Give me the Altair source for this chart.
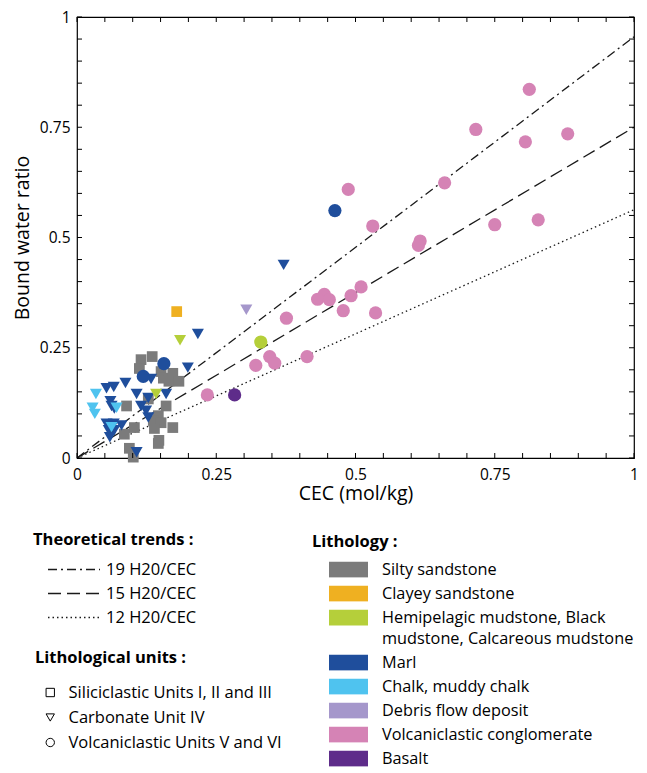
import altair as alt
import pandas as pd

FONT = "Open Sans"
W, H = 557, 441

# ---------------- data ----------------
# Silty sandstone (Siliciclastic units, squares)
silty_x = [0.115, 0.135, 0.112, 0.151, 0.155, 0.172, 0.165, 0.183, 0.160, 0.146, 0.137,
           0.151, 0.172, 0.139, 0.147, 0.146, 0.103, 0.089, 0.094, 0.101, 0.085, 0.128]
silty_y = [0.223, 0.230, 0.203, 0.196, 0.181, 0.192, 0.174, 0.174, 0.118, 0.096, 0.085,
           0.080, 0.069, 0.067, 0.040, 0.033, 0.069, 0.118, 0.022, 0.002, 0.054, 0.134]

# Clayey sandstone (square)
clayey_x = [0.179]
clayey_y = [0.332]

# Marl, carbonate unit (triangles)
marl_tri_x = [0.217, 0.199, 0.371, 0.053, 0.066, 0.087, 0.107, 0.128, 0.160, 0.133, 0.060, 0.062,
              0.067, 0.115, 0.124, 0.128, 0.053, 0.066, 0.080, 0.057, 0.059, 0.067, 0.107]
marl_tri_y = [0.281, 0.205, 0.438, 0.158, 0.161, 0.170, 0.145, 0.136, 0.145, 0.179, 0.129, 0.118,
              0.112, 0.118, 0.107, 0.092, 0.078, 0.078, 0.074, 0.063, 0.047, 0.063, 0.013]

# Marl, volcaniclastic units (circles)
marl_circ_x = [0.463, 0.156, 0.119]
marl_circ_y = [0.561, 0.214, 0.185]

# Chalk, muddy chalk (triangles)
chalk_x = [0.034, 0.028, 0.032, 0.071, 0.062]
chalk_y = [0.145, 0.114, 0.100, 0.114, 0.070]

# Hemipelagic / black / calcareous mudstone
hemi_tri_x = [0.185, 0.142]
hemi_tri_y = [0.267, 0.145]
hemi_circ_x = [0.330]
hemi_circ_y = [0.263]

# Debris flow deposit (triangle)
debris_x = [0.304]
debris_y = [0.336]

# Volcaniclastic conglomerate (circles)
volc_x = [0.812, 0.716, 0.805, 0.881, 0.660, 0.750, 0.828, 0.616, 0.613, 0.487, 0.531, 0.444,
          0.432, 0.453, 0.492, 0.510, 0.478, 0.536, 0.234, 0.321, 0.346, 0.355, 0.376, 0.413]
volc_y = [0.836, 0.745, 0.717, 0.735, 0.624, 0.529, 0.540, 0.492, 0.482, 0.609, 0.526, 0.371,
          0.360, 0.359, 0.368, 0.388, 0.334, 0.329, 0.143, 0.210, 0.230, 0.215, 0.317, 0.230]

# Basalt (circle)
basalt_x = [0.283]
basalt_y = [0.143]

# Theoretical trends: bound water ratio reached at CEC = 1
trend_names = ["19 H20/CEC", "15 H20/CEC", "12 H20/CEC"]
trend_end = [0.955, 0.75, 0.563]
trend_dash = [[9, 4, 2, 4], [13, 6], [1.5, 3]]

lithologies = ["Silty sandstone", "Clayey sandstone",
               "Hemipelagic mudstone, Black mudstone, Calcareous mudstone",
               "Marl", "Chalk, muddy chalk", "Debris flow deposit",
               "Volcaniclastic conglomerate", "Basalt"]
litho_colors = ["#7b7b7b", "#efb021", "#b5cf3a", "#1f4e9c", "#4fc3ef", "#a597cb",
                "#d583b5", "#5e2c8a"]

units = ["Siliciclastic Units I, II and III", "Carbonate Unit IV", "Volcaniclastic Units V and VI"]
unit_shapes = ["square", "triangle-down", "circle"]
unit_sizes = [115, 175, 150]

axis_labels = [0, 0.25, 0.5, 0.75, 1]
tick_values = [0, 0.05, 0.1, 0.15, 0.2, 0.25, 0.3, 0.35, 0.4, 0.45, 0.5,
               0.55, 0.6, 0.65, 0.7, 0.75, 0.8, 0.85, 0.9, 0.95, 1]

# ---------------- tables ----------------
groups = [
    (lithologies[0], units[0], silty_x, silty_y),
    (lithologies[1], units[0], clayey_x, clayey_y),
    (lithologies[3], units[1], marl_tri_x, marl_tri_y),
    (lithologies[4], units[1], chalk_x, chalk_y),
    (lithologies[2], units[1], hemi_tri_x, hemi_tri_y),
    (lithologies[5], units[1], debris_x, debris_y),
    (lithologies[3], units[2], marl_circ_x, marl_circ_y),
    (lithologies[2], units[2], hemi_circ_x, hemi_circ_y),
    (lithologies[6], units[2], volc_x, volc_y),
    (lithologies[7], units[2], basalt_x, basalt_y),
]
shape_of_unit = dict(zip(units, unit_shapes))
pts = []
for lit, unit, xs, ys in groups:
    for x, y in zip(xs, ys):
        pts.append({"cec": x, "bwr": y, "lithology": lit, "unit": unit,
                    "marker": shape_of_unit[unit]})
pts_df = pd.DataFrame(pts)
pts_df["order"] = range(len(pts_df))

line_rows = []
for name, end in zip(trend_names, trend_end):
    line_rows.append({"trend": name, "cec": 0.0, "bwr": 0.0})
    line_rows.append({"trend": name, "cec": 1.0, "bwr": end})
lines_df = pd.DataFrame(line_rows)

ticks_df = pd.DataFrame({"t": tick_values})


def xscale():
    return alt.Scale(domain=[0, 1], nice=False, zero=False)


def yscale():
    return alt.Scale(domain=[0, 1], nice=False, zero=False)


LABEL_EXPR = "format(datum.value, '.2~f')"

# layer 1: trend lines + labelled axes
x_lab = alt.Axis(orient="bottom", values=axis_labels, labelExpr=LABEL_EXPR, ticks=False,
                 domain=False, grid=False, labelFontSize=15.5, labelPadding=9, labelFlush=False,
                 labelColor="black", title="CEC (mol/kg)", titleFontSize=19.5,
                 titleFontWeight="normal", titleColor="black", titlePadding=2)
y_lab = alt.Axis(orient="left", values=axis_labels, labelExpr=LABEL_EXPR, ticks=False,
                 domain=False, grid=False, labelFontSize=15.5, labelPadding=7, labelFlush=False,
                 labelColor="black", title="Bound water ratio", titleFontSize=19.5,
                 titleFontWeight="normal", titleColor="black", titlePadding=7)

lines = alt.Chart(lines_df).mark_line(color="#1a1a1a", strokeWidth=1.3, clip=True).encode(
    x=alt.X("cec:Q", scale=xscale(), axis=x_lab),
    y=alt.Y("bwr:Q", scale=yscale(), axis=y_lab),
    strokeDash=alt.StrokeDash(
        "trend:N",
        scale=alt.Scale(domain=trend_names, range=trend_dash),
        legend=alt.Legend(
            title="Theoretical trends :", orient="none", legendX=-44, legendY=515,
            direction="vertical", symbolType="stroke", symbolSize=2704,
            symbolStrokeWidth=1.3, symbolStrokeColor="#1a1a1a", clipHeight=16,
            rowPadding=7, titlePadding=13, symbolOffset=14, labelOffset=5,
            labelFontSize=16.5, titleFontSize=16.5, titleFontWeight="bold",
            labelColor="black", titleColor="black", padding=0, labelLimit=300),
    ),
)

# layer 2: data points
points = alt.Chart(pts_df).mark_point(filled=True, opacity=1, strokeWidth=0).encode(
    x=alt.X("cec:Q", scale=xscale(), axis=None),
    y=alt.Y("bwr:Q", scale=yscale(), axis=None),
    color=alt.Color(
        "lithology:N",
        scale=alt.Scale(domain=lithologies, range=litho_colors),
        legend=alt.Legend(
            title="Lithology :", orient="none", legendX=235, legendY=517,
            direction="vertical", symbolType="M-1,-0.41H1V0.41H-1Z", symbolSize=1521,
            symbolStrokeWidth=0, symbolOpacity=1, clipHeight=16, rowPadding=7,
            titlePadding=11, symbolOffset=17, labelOffset=14, labelFontSize=16.3,
            titleFontSize=16.5, titleFontWeight="bold", labelColor="black",
            titleColor="black", padding=0, labelLimit=400,
            labelExpr=("datum.label == 'Hemipelagic mudstone, Black mudstone, Calcareous mudstone'"
                       " ? ['Hemipelagic mudstone, Black', 'mudstone, Calcareous mudstone']"
                       " : datum.label")),
    ),
    shape=alt.Shape(
        "unit:N",
        scale=alt.Scale(domain=units, range=unit_shapes),
        legend=alt.Legend(
            title="Lithological units :", orient="none", legendX=-42, legendY=633,
            direction="vertical", symbolSize=70, symbolFillColor="white",
            symbolStrokeColor="black", symbolStrokeWidth=1, clipHeight=16, rowPadding=8,
            titlePadding=18, symbolOffset=7, labelOffset=10, labelFontSize=16.5,
            titleFontSize=16.5, titleFontWeight="bold", labelColor="black",
            titleColor="black", padding=0, labelLimit=400),
    ),
    size=alt.Size("marker:N", scale=alt.Scale(domain=unit_shapes, range=unit_sizes),
                  legend=None),
    order=alt.Order("order:Q"),
)

# inside tick marks on the four sides of the frame
TICK_COLOR = "black"
TICK_LEN = 5
tick_bottom = alt.Chart(ticks_df).mark_rule(color=TICK_COLOR, strokeWidth=1, opacity=1).encode(
    x=alt.X("t:Q", scale=xscale(), axis=None), y=alt.value(H), y2=alt.value(H - TICK_LEN))
tick_top = alt.Chart(ticks_df).mark_rule(color=TICK_COLOR, strokeWidth=1, opacity=1).encode(
    x=alt.X("t:Q", scale=xscale(), axis=None), y=alt.value(0), y2=alt.value(TICK_LEN))
tick_left = alt.Chart(ticks_df).mark_rule(color=TICK_COLOR, strokeWidth=1, opacity=1).encode(
    y=alt.Y("t:Q", scale=yscale(), axis=None), x=alt.value(0), x2=alt.value(TICK_LEN))
tick_right = alt.Chart(ticks_df).mark_rule(color=TICK_COLOR, strokeWidth=1, opacity=1).encode(
    y=alt.Y("t:Q", scale=yscale(), axis=None), x=alt.value(W), x2=alt.value(W - TICK_LEN))

chart = alt.layer(lines, points, tick_bottom, tick_top, tick_left, tick_right).resolve_scale(
    x="independent", y="independent"
).resolve_axis(
    x="independent", y="independent"
).properties(
    width=W, height=H,
    padding={"left": 69, "top": 9, "right": 5, "bottom": 315},
    autosize=alt.AutoSizeParams(type="none"),
).configure(
    font=FONT,
    style={"guide-label": {"lineHeight": 21}},
).configure_view(
    stroke="black", strokeWidth=1.2,
)

chart.save("out.html", embed_options={"renderer": "svg", "actions": False})
